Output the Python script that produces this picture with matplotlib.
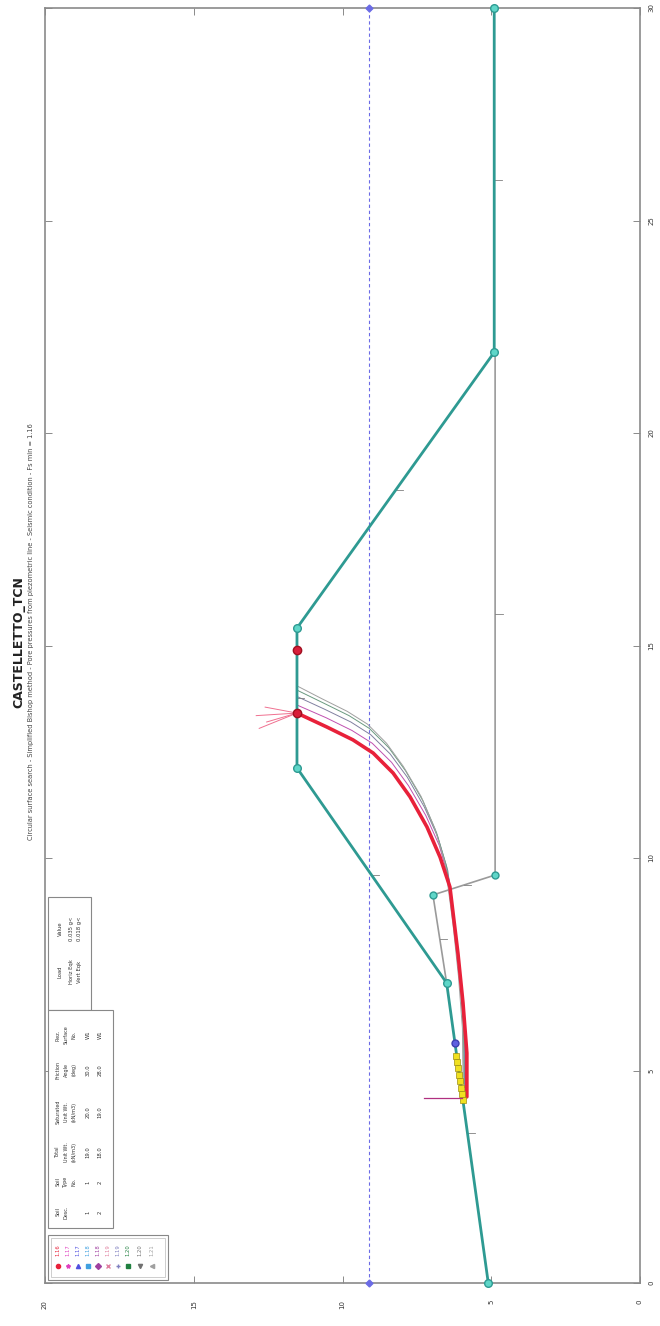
import numpy as np
import matplotlib
matplotlib.use('Agg')
import matplotlib.pyplot as plt
from matplotlib.patches import Rectangle

W, H = 660, 1326

# ---------------- data ----------------
dist_ticks = [0, 5, 10, 15, 20, 25, 30]
elev_ticks = [0, 5, 10, 15, 20]

ground_d = [0.0, 7.06, 12.12, 15.41, 21.9, 30.0]
ground_e = [5.1, 6.5, 11.53, 11.53, 4.9, 4.9]

layer_d = [7.06, 9.13, 9.6, 21.9]
layer_e = [6.5, 6.96, 4.87, 4.87]

water_d = [0.0, 30.0]
water_e = [9.1, 9.1]

crit_d = [4.38, 5.41, 6.59, 7.76, 9.32, 10.02, 10.73, 11.44, 12.0, 12.47, 12.78, 13.08, 13.41]
crit_e = [5.82, 5.82, 5.95, 6.12, 6.39, 6.72, 7.16, 7.73, 8.30, 8.97, 9.65, 10.52, 11.53]

s2_d = [4.5, 5.6, 6.8, 8.0, 9.5, 10.3, 11.0, 11.7, 12.25, 12.7, 13.0, 13.3, 13.6]
s2_e = [5.86, 5.86, 5.98, 6.15, 6.42, 6.75, 7.2, 7.78, 8.35, 9.0, 9.68, 10.55, 11.53]
s3_d = [4.6, 5.8, 7.0, 8.2, 9.7, 10.5, 11.2, 11.9, 12.45, 12.9, 13.2, 13.5, 13.8]
s3_e = [5.9, 5.9, 6.01, 6.18, 6.46, 6.8, 7.25, 7.82, 8.4, 9.05, 9.72, 10.6, 11.53]
s4_d = [4.7, 5.9, 7.1, 8.3, 9.8, 10.6, 11.35, 12.05, 12.6, 13.05, 13.35, 13.65, 13.95]
s4_e = [5.92, 5.93, 6.05, 6.22, 6.5, 6.84, 7.3, 7.88, 8.45, 9.1, 9.78, 10.65, 11.53]
s5_d = [4.85, 6.0, 7.2, 8.4, 9.9, 10.7, 11.45, 12.15, 12.7, 13.15, 13.45, 13.75, 14.05]
s5_e = [5.95, 5.97, 6.1, 6.28, 6.56, 6.9, 7.36, 7.95, 8.52, 9.16, 9.84, 10.7, 11.53]
other_surfaces = [(s2_d, s2_e), (s3_d, s3_e), (s4_d, s4_e), (s5_d, s5_e)]
other_colors = ['#c050b0', '#8080a0', '#6a9a80', '#a0a0a0']

exit_d = [4.3, 4.45, 4.6, 4.75, 4.9, 5.05, 5.2, 5.35]
exit_e = [5.96, 5.99, 6.02, 6.05, 6.08, 6.11, 6.14, 6.17]
blue_pt_d = [5.65]
blue_pt_e = [6.22]

red_pts_d = [13.41, 14.9]
red_pts_e = [11.53, 11.53]

top_arrow_d0 = [13.05, 13.2, 13.35, 13.55]
top_arrow_e0 = [12.8, 12.55, 12.9, 12.6]
bottom_arrow_d = [4.35, 4.35]
bottom_arrow_e = [7.25, 5.98]

legend_fs = ['1.16', '1.17', '1.17', '1.18', '1.18', '1.19', '1.19', '1.20', '1.20', '1.21']
legend_colors = ['#e8213a', '#e040c0', '#5050e0', '#40a0e0', '#a040a0',
                 '#e080a0', '#8080c0', '#208040', '#707070', '#a0a0a0']
legend_markers = ['o', '*', '^', 's', 'D', 'x', '+', 's', 'v', '<']

soil_cols = [["Soil", "Desc."], ["Soil", "Type", "No."], ["Total", "Unit Wt.", "(kN/m3)"],
             ["Saturated", "Unit Wt.", "(kN/m3)"], ["Friction", "Angle", "(deg)"],
             ["Piez.", "Surface", "No."]]
soil_row1 = ["1", "1", "19.0", "20.0", "30.0", "W1"]
soil_row2 = ["2", "2", "18.0", "19.0", "28.0", "W1"]

load_cols = [["Load", "Horiz Eqk", "Vert Eqk"], ["Value", "0.035 g<", "0.018 g<"]]

# ---------------- figure ----------------
fig = plt.figure(figsize=(W / 100, H / 100), dpi=100)
fig.patch.set_facecolor('white')

ax = fig.add_axes([45 / W, 43 / H, 595 / W, 1275 / H])
ax.set_xlim(20, 0)
ax.set_ylim(0, 30)

teal = '#2e9a92'
teal_face = '#5fd6c8'
wt_blue = '#6b6be6'

# water table
ax.plot(water_e, water_d, color=wt_blue, lw=0.8, ls=(0, (3, 2.5)), zorder=2)
ax.plot(water_e, water_d, ls='none', marker='D', ms=3.5, color=wt_blue, zorder=3, clip_on=False)

# layer boundary
ax.plot(layer_e, layer_d, color='#9a9a9a', lw=1.2, zorder=2)
ax.plot(layer_e[1:3], layer_d[1:3], ls='none', marker='o', ms=5,
        mfc=teal_face, mec=teal, zorder=4)

# other surfaces
for (sd, se), c in zip(other_surfaces, other_colors):
    ax.plot(se, sd, color=c, lw=0.7, zorder=3)

# ground surface
ax.plot(ground_e, ground_d, color=teal, lw=2.0, zorder=4)
ax.plot(ground_e, ground_d, ls='none', marker='o', ms=5.5, mfc=teal_face, mec=teal,
        zorder=6, clip_on=False)

# segment midpoint ticks
for sd, se in [(ground_d, ground_e), (layer_d, layer_e)]:
    for i in range(len(sd) - 1):
        md = (sd[i] + sd[i + 1]) / 2
        me = (se[i] + se[i + 1]) / 2
        ax.plot([me, me - 0.25], [md, md], color='#808080', lw=0.6, zorder=3)

# critical surface
ax.plot(crit_e, crit_d, color='#e8213a', lw=2.6, zorder=5, solid_capstyle='round')

# exit points
ax.plot(exit_e, exit_d, ls='none', marker='s', ms=4, mfc='#f0e020', mec='#a09010', mew=0.5, zorder=7)
ax.plot(blue_pt_e, blue_pt_d, ls='none', marker='o', ms=5, mfc='#6060e0', mec='#4040b0', zorder=7)

# red points
ax.plot(red_pts_e, red_pts_d, ls='none', marker='o', ms=6, mfc='#d81e3a', mec='#a01020', zorder=8)

# arrows
for d0, e0 in zip(top_arrow_d0, top_arrow_e0):
    ax.plot([e0, red_pts_e[0]], [d0, red_pts_d[0]], color='#f07090', lw=0.7, zorder=6)
ax.plot(bottom_arrow_e, bottom_arrow_d, color='#b03080', lw=0.9, zorder=8)

# axes styling
for s in ax.spines.values():
    s.set_color('#8a8a8a')
    s.set_linewidth(1.2)
ax.set_xticks(elev_ticks)
ax.set_yticks(dist_ticks)
ax.set_xticklabels([str(v) for v in elev_ticks], rotation=90, fontsize=5, color='#333333')
ax.set_yticklabels([str(v) for v in dist_ticks], rotation=90, fontsize=5, color='#333333', va='center')
ax.tick_params(axis='both', direction='in', length=5, width=0.6, colors='#777777',
               labelcolor='#333333', top=True, bottom=True, left=True, right=True)
ax.tick_params(axis='y', labelleft=False, labelright=True, pad=6)
ax.tick_params(axis='x', labelbottom=True, pad=12)

# ---------------- overlay (text / boxes) ----------------
ov = fig.add_axes([0, 0, 1, 1])
ov.set_xlim(0, W)
ov.set_ylim(H, 0)
ov.axis('off')
ov.set_zorder(10)

ov.text(19, 642, 'CASTELLETTO_TCN', rotation=90, ha='center', va='center',
        fontsize=9, fontweight='bold', color='#222222')
ov.text(31, 632, 'Circular surface search - Simplified Bishop method - Pore pressures from piezometric line - Seismic condition - Fs min = 1.16',
        rotation=90, ha='center', va='center', fontsize=4.8, color='#444444')

# load box
ov.add_patch(Rectangle((48, 897), 43, 113, fill=True, fc='white', ec='#888888', lw=0.8))
load_y = [972, 929]
load_x = [60, 71, 80]
for cy, col in zip(load_y, load_cols):
    for x, t in zip(load_x, col):
        ov.text(x, cy, t, rotation=90, ha='center', va='center', fontsize=3.8, color='#333333')

# soil table box
ov.add_patch(Rectangle((48, 1010), 65, 218, fill=True, fc='white', ec='#888888', lw=0.8))
soil_y = [1212, 1182, 1152, 1112, 1070, 1035]
head_x = [58, 66, 74]
row_x = [88, 100]
for cy, col, r1, r2 in zip(soil_y, soil_cols, soil_row1, soil_row2):
    for x, t in zip(head_x, col):
        ov.text(x, cy, t, rotation=90, ha='center', va='center', fontsize=3.5, color='#333333')
    ov.text(row_x[0], cy, r1, rotation=90, ha='center', va='center', fontsize=3.8, color='#333333')
    ov.text(row_x[1], cy, r2, rotation=90, ha='center', va='center', fontsize=3.8, color='#333333')

# legend box
ov.add_patch(Rectangle((48, 1235), 120, 45, fill=True, fc='white', ec='#888888', lw=0.8))
ov.add_patch(Rectangle((51, 1238), 114, 39, fill=False, ec='#bbbbbb', lw=0.5))
leg_x = [58, 68, 78, 88, 98, 108, 118, 128, 140, 152]
for x, fs, c, m in zip(leg_x, legend_fs, legend_colors, legend_markers):
    ov.text(x, 1250, fs, rotation=90, ha='center', va='center', fontsize=3.8, color=c)
    ov.plot([x], [1266], marker=m, ms=3, color=c, ls='none')

fig.savefig('out.png', dpi=100, facecolor='white')
